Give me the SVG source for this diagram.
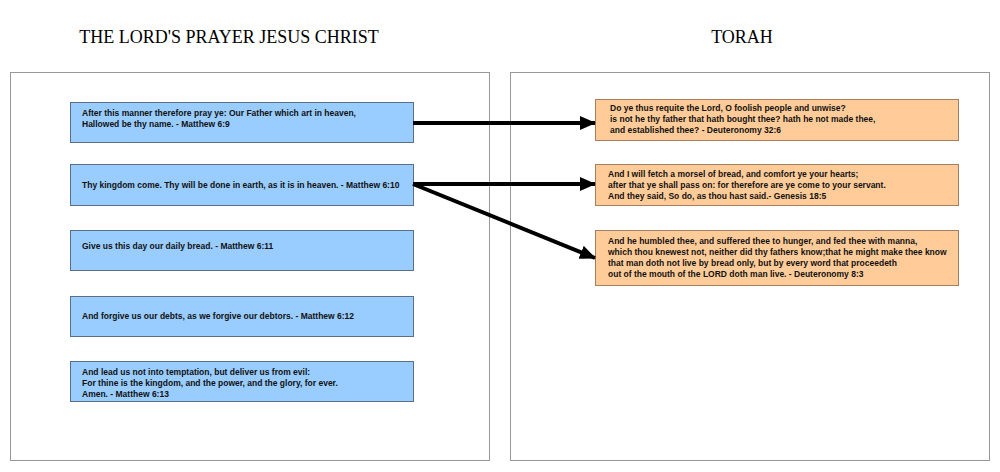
<svg xmlns="http://www.w3.org/2000/svg" width="1000" height="472" viewBox="0 0 1000 472">
<style>
.panel{fill:#fff;stroke:#999;stroke-width:1}
.b{fill:#99ccff;stroke:#5a6e86;stroke-width:1}
.o{fill:#ffcc99;stroke:#a08060;stroke-width:1}
.t{font-family:"Liberation Sans",Arial,sans-serif;font-size:8.5px;font-weight:bold;fill:#111}
.h{font-family:"Liberation Serif","Times New Roman",serif;font-size:18px;fill:#000}
.c{stroke:#000;stroke-width:4;fill:none;marker-end:url(#a)}
</style>
<defs><marker id="a" markerUnits="userSpaceOnUse" markerWidth="16" markerHeight="14" refX="15" refY="7" orient="auto"><path d="M0,0 L16,7 L0,14 Z" fill="#000"/></marker></defs>
<rect width="1000" height="472" fill="#fff"/>
<text class="h" x="229" y="43" text-anchor="middle">THE LORD'S PRAYER JESUS CHRIST</text>
<text class="h" x="742" y="43" text-anchor="middle">TORAH</text>
<rect class="panel" x="10.5" y="72.5" width="479" height="388"/>
<rect class="panel" x="510.5" y="72.5" width="479" height="388"/>
<g id="m9"><rect class="b" x="70.5" y="102.5" width="343" height="40"/><text class="t" x="82" y="116">After this manner therefore pray ye: Our Father which art in heaven,</text><text class="t" x="82" y="127">Hallowed be thy name. - Matthew 6:9</text></g>
<g id="m10"><rect class="b" x="70.5" y="164.5" width="343" height="41"/><text class="t" x="82" y="188">Thy kingdom come. Thy will be done in earth, as it is in heaven. - Matthew 6:10</text></g>
<g id="m11"><rect class="b" x="70.5" y="230.5" width="343" height="40"/><text class="t" x="82" y="249">Give us this day our daily bread. - Matthew 6:11</text></g>
<g id="m12"><rect class="b" x="70.5" y="296.5" width="343" height="40"/><text class="t" x="82" y="319">And forgive us our debts, as we forgive our debtors. - Matthew 6:12</text></g>
<g id="m13"><rect class="b" x="70.5" y="361.5" width="343" height="40"/><text class="t" x="82" y="375">And lead us not into temptation, but deliver us from evil:</text><text class="t" x="82" y="386">For thine is the kingdom, and the power, and the glory, for ever.</text><text class="t" x="82" y="397">Amen. - Matthew 6:13</text></g>
<g id="d32"><rect class="o" x="595.5" y="99.5" width="363" height="41"/><text class="t" x="610" y="111">Do ye thus requite the Lord, O foolish people and unwise?</text><text class="t" x="610" y="122">is not he thy father that hath bought thee? hath he not made thee,</text><text class="t" x="610" y="133">and established thee? - Deuteronomy 32:6</text></g>
<g id="g18"><rect class="o" x="595.5" y="164.5" width="363" height="41"/><text class="t" x="608" y="177">And I will fetch a morsel of bread, and comfort ye your hearts;</text><text class="t" x="608" y="188">after that ye shall pass on: for therefore are ye come to your servant.</text><text class="t" x="608" y="199">And they said, So do, as thou hast said.- Genesis 18:5</text></g>
<g id="d8"><rect class="o" x="595.5" y="230.5" width="363" height="55"/><text class="t" x="608" y="244">And he humbled thee, and suffered thee to hunger, and fed thee with manna,</text><text class="t" x="608" y="255">which thou knewest not, neither did thy fathers know;that he might make thee know</text><text class="t" x="608" y="266">that man doth not live by bread only, but by every word that proceedeth</text><text class="t" x="608" y="277">out of the mouth of the LORD doth man live. - Deuteronomy 8:3</text></g>
<g id="connectors">
<line class="c" x1="413" y1="123" x2="595" y2="123"/>
<line class="c" x1="413" y1="184" x2="595" y2="184"/>
<line class="c" x1="413" y1="184" x2="595" y2="258"/>
</g>
</svg>
